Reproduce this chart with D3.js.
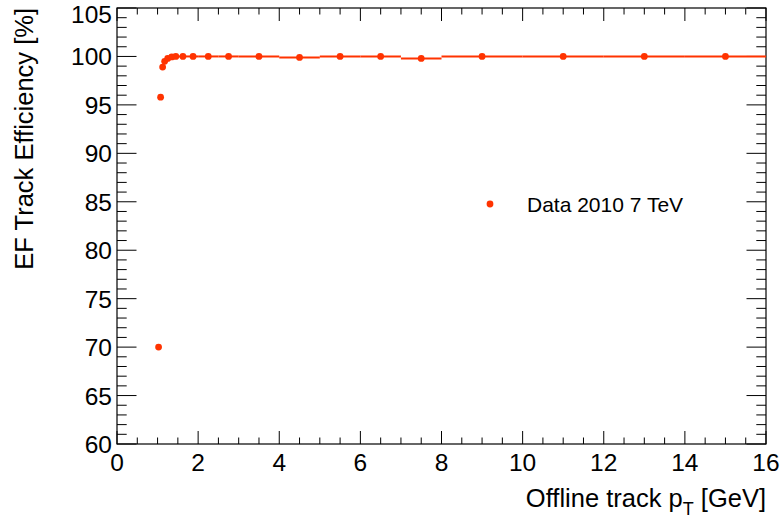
<!DOCTYPE html>
<html><head><meta charset="utf-8">
<script src="https://cdn.jsdelivr.net/npm/d3@7"></script>
<style>body{margin:0;background:#fff;} svg{display:block;font-family:"Liberation Sans",Arial,Helvetica,sans-serif;}</style>
</head><body>
<svg id="c" width="784" height="529"></svg>
<script>
// Data
const ptCenter = [1.025, 1.075, 1.125, 1.175, 1.25, 1.35, 1.45, 1.625, 1.875, 2.25, 2.75, 3.5, 4.5, 5.5, 6.5, 7.5, 9, 11, 13, 15];
const ptHalfWidth = [0.025, 0.025, 0.025, 0.025, 0.05, 0.05, 0.05, 0.125, 0.125, 0.25, 0.25, 0.5, 0.5, 0.5, 0.5, 0.5, 1, 1, 1, 1];
const efficiency = [70.0, 95.8, 98.9, 99.5, 99.8, 99.95, 100.0, 100.0, 100.0, 100.0, 100.0, 100.0, 99.9, 100.0, 100.0, 99.8, 100.0, 100.0, 100.0, 100.0];
const xTicks = [0, 2, 4, 6, 8, 10, 12, 14, 16];
const yTicks = [60, 65, 70, 75, 80, 85, 90, 95, 100, 105];
const legendLabel = "Data 2010 7 TeV";

const svg = d3.select("#c");
const L = 117, R = 766, T = 8, B = 444;
const x = d3.scaleLinear().domain([0, 16]).range([L, R]);
const y = d3.scaleLinear().domain([60, 105]).range([B, T]);
const red = "#ff3300";

// Ticks
const g = svg.append("g");
const xMinor = d3.range(0, 16.001, 0.5);
const yMinor = d3.range(60, 105.001, 1);
const xMaj = 13, xMin = 6.5, yMaj = 19.5, yMin = 9.7;
xMinor.forEach(v => {
  const isMaj = Math.abs(v / 2 - Math.round(v / 2)) < 1e-6;
  const len = isMaj ? xMaj : xMin;
  g.append("line").attr("x1", x(v)).attr("x2", x(v)).attr("y1", B).attr("y2", B - len).attr("stroke", "#000");
  g.append("line").attr("x1", x(v)).attr("x2", x(v)).attr("y1", T).attr("y2", T + len).attr("stroke", "#000");
});
yMinor.forEach(v => {
  const isMaj = v % 5 === 0;
  const len = isMaj ? yMaj : yMin;
  g.append("line").attr("y1", y(v)).attr("y2", y(v)).attr("x1", L).attr("x2", L + len).attr("stroke", "#000");
  g.append("line").attr("y1", y(v)).attr("y2", y(v)).attr("x1", R).attr("x2", R - len).attr("stroke", "#000");
});

// Tick labels
xTicks.forEach(v => {
  svg.append("text").attr("x", x(v)).attr("y", B + 27).attr("text-anchor", "middle")
    .attr("font-size", 24.5).text(v);
});
yTicks.forEach(v => {
  svg.append("text").attr("x", L - 5).attr("y", Math.max(y(v) + 9, 23)).attr("text-anchor", "end")
    .attr("font-size", 24.5).text(v);
});

// Frame
svg.append("rect").attr("x", L).attr("y", T).attr("width", R - L).attr("height", B - T)
  .attr("fill", "none").attr("stroke", "#000").attr("stroke-width", 1.2);

// Axis titles
const xt = svg.append("text").attr("x", R).attr("y", 507).attr("text-anchor", "end").attr("font-size", 25.5);
xt.append("tspan").text("Offline track p");
xt.append("tspan").attr("font-size", 18).attr("dy", 8).text("T");
xt.append("tspan").attr("dy", -8).text(" [GeV]");

svg.append("text").attr("transform", `translate(33,${T}) rotate(-90)`).attr("text-anchor", "end")
  .attr("font-size", 25.5).text("EF Track Efficiency [%]");

// Data: horizontal error bars + markers
const data = ptCenter.map((c, i) => ({c, hw: ptHalfWidth[i], e: efficiency[i]}));
const pg = svg.append("g");
pg.selectAll("line.err").data(data).enter().append("line")
  .attr("x1", d => x(d.c - d.hw)).attr("x2", d => x(d.c + d.hw))
  .attr("y1", d => y(d.e)).attr("y2", d => y(d.e))
  .attr("stroke", red).attr("stroke-width", 2);
pg.selectAll("circle").data(data).enter().append("circle")
  .attr("cx", d => x(d.c)).attr("cy", d => y(d.e)).attr("r", 3.4).attr("fill", red);

// Legend
svg.append("circle").attr("cx", 490).attr("cy", 204).attr("r", 3.4).attr("fill", red);
svg.append("text").attr("x", 527).attr("y", 212).attr("font-size", 21).text(legendLabel);
</script>
</body></html>
